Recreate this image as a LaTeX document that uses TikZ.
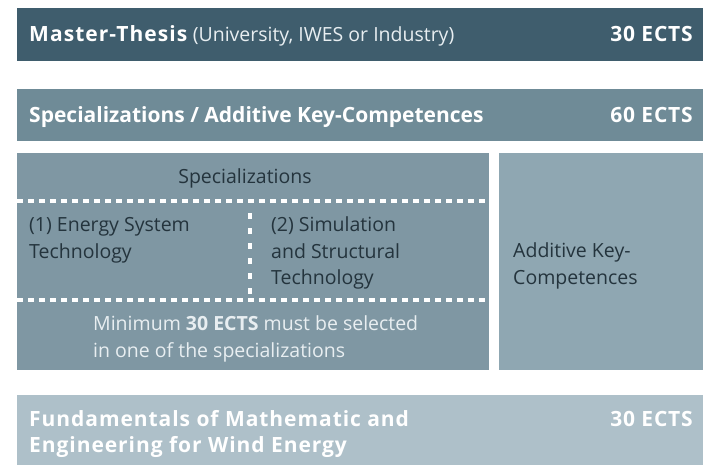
\documentclass[tikz,border=0pt]{standalone}
\usepackage{fontspec}
\setmainfont{Open Sans}
\definecolor{cMaster}{HTML}{3F5D6D}
\definecolor{cSpecBar}{HTML}{6F8B97}
\definecolor{cSpecBox}{HTML}{7F97A3}
\definecolor{cAdd}{HTML}{8FA7B2}
\definecolor{cFund}{HTML}{AEC0C9}
\definecolor{cDark}{HTML}{24343D}
\definecolor{cLight}{HTML}{E8EEF1}
\tikzset{
  head/.style={text=white, font=\fontsize{21}{24}\selectfont\bfseries, inner sep=0pt, anchor=base west},
  ects/.style={text=white, font=\fontsize{21}{24}\selectfont\bfseries\addfontfeatures{LetterSpace=4}, inner sep=0pt, anchor=base east},
  body/.style={text=cDark, font=\fontsize{19.5}{26.2}\selectfont, inner sep=0pt, align=left, anchor=base west},
  hdash/.style={draw=white, line width=4pt, dash pattern=on 6pt off 5pt},
  vdash/.style={draw=white, line width=4pt, dash pattern=on 6pt off 9pt},
}
\begin{document}
\begin{tikzpicture}[x=1pt,y=-1pt]
\useasboundingbox (0,0) rectangle (703,465);
% bars
\fill[cMaster] (17,8) rectangle (703,61);
\fill[cSpecBar] (17,89) rectangle (703,141);
\fill[cSpecBox] (17,153) rectangle (489,370);
\fill[cAdd] (499,153) rectangle (703,370);
\fill[cFund] (17,395) rectangle (703,465);
% headers
\node[head] (mt) at (29,41.5) {{\addfontfeatures{LetterSpace=5}Master-Thesis} {\mdseries\fontsize{19.5}{24}\selectfont\color{cLight}(University, IWES or Industry)}};
\node[ects] (mtE) at (693,41.5) {30 ECTS};
\node[head] (sp) at (29,122.5) {Specializations / Additive Key-Competences};
\node[ects] (spE) at (693,122.5) {60 ECTS};
% spec box
\node[body, anchor=base] (spT) at (245,183) {Specializations};
\coordinate (hl1a) at (17,201); \coordinate (hl1b) at (489,201);
\coordinate (hl2a) at (17,300); \coordinate (hl2b) at (489,300);
\coordinate (vla) at (250,213); \coordinate (vlb) at (250,300);
\draw[hdash] (hl1a) -- (hl1b);
\draw[hdash] (hl2a) -- (hl2b);
\draw[vdash] (vla) -- (vlb);
\node[body] (s1) at (29,258) {(1) Energy System\\Technology};
\node[body] (s2) at (271,284.2) {(2) Simulation\\and Structural\\Technology};
\node[body, text=cLight] (min) at (93,357) {Minimum \textbf{30 ECTS} must be selected\\in one of the specializations};
\node[body] (add) at (513,284) {Additive Key-\\Competences};
% fundamentals
\node[text=white, font=\fontsize{21}{25.5}\selectfont\bfseries\addfontfeatures{LetterSpace=4.5}, inner sep=0pt, align=left, anchor=base west] (fu) at (29,452) {Fundamentals of Mathematic and\\Engineering for Wind Energy};
\node[ects] (fuE) at (693,426.5) {30 ECTS};
\end{tikzpicture}
\end{document}
